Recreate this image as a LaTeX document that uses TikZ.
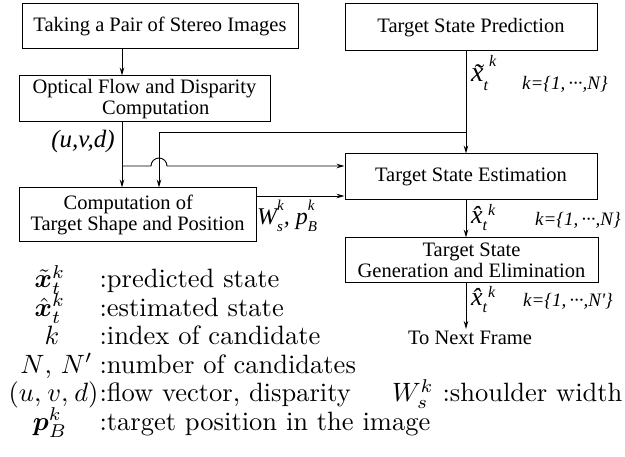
\documentclass[tikz,border=0pt]{standalone}
\usepackage{fontspec}
\usepackage{amsmath}
\usepackage{bm}
\usetikzlibrary{arrows.meta}
\newfontfamily\tms{Liberation Serif}
\newcommand{\sbsp}[2]{\rlap{\raisebox{-0.28em}{\fontsize{15}{15}\selectfont #1}}\raisebox{0.62em}{\fontsize{15}{15}\selectfont #2}}
% #1 accent, #2 size of x, #3 drop of t, #4 raise of k
\newcommand{\accx}[4]{{\fontsize{#2}{#2}\selectfont #1{x}}\raisebox{-#3}{\fontsize{16}{16}\selectfont t}\hspace{1pt}\raisebox{#4}{\fontsize{16}{16}\selectfont k}}
\newcommand{\mdots}{\textperiodcentered\textperiodcentered\textperiodcentered}
\begin{document}
\begin{tikzpicture}[x=1pt,y=-1pt,
  box/.style={draw, line width=1pt, inner sep=0pt, font=\tms\fontsize{20.5}{21}\selectfont, align=center},
  con/.style={line width=0.9pt, -{Stealth[length=8pt,width=4.5pt]}},
  lbl/.style={font=\tms\itshape\fontsize{24}{24}\selectfont, inner sep=0pt},
  klbl/.style={font=\tms\itshape\fontsize{19}{19}\selectfont, inner sep=0pt, anchor=base west},
  leg/.style={font=\normalsize, scale=2.65, transform shape, inner sep=0pt}
]
\useasboundingbox (0,0) rectangle (625,457);

% boxes
\node[box, minimum width=276pt, minimum height=45pt] (b1) at (160,26.5) {Taking a Pair of Stereo Images};
\node[box, minimum width=251pt, minimum height=46pt] (b2) at (144.5,99) {Optical Flow and Disparity\\\hspace*{1.1em}Computation};
\node[box, minimum width=237pt, minimum height=54pt] (b3) at (137.5,215) {Computation of\hspace*{0.9em}\\Target Shape and Position};
\node[box, minimum width=252pt, minimum height=47pt] (bp) at (471,27.5) {Target State Prediction};
\node[box, minimum width=252pt, minimum height=46pt] (be) at (471,177) {Target State Estimation};
\node[box, minimum width=253pt, minimum height=45pt] (bg) at (471.5,260.5) {Target State\\Generation and Elimination};
\node[font=\tms\fontsize{20.5}{21}\selectfont, inner xsep=0pt, inner ysep=2pt] (nf) at (470,338) {To Next Frame};

% helper coordinates
\coordinate (xa) at (122,0);
\coordinate (xb) at (159,0);
\coordinate (xc) at (466,0);
\coordinate (yj) at (0,132);
\coordinate (yh) at (0,166);
\coordinate (yw) at (0,196);

% connectors
\draw[con] (b1.south -| xa) -- (b2.north -| xa);
\draw[con] (b2.south -| xa) -- (b3.north -| xa);
\draw[con] (bp.south -| xc) -- (be.north -| xc);
\draw[con] (xc |- yj) -- (xb |- yj) -- (b3.north -| xb);
\draw[con] (xa |- yh) -- ([xshift=-8pt]xb |- yh) arc[start angle=180, end angle=0, radius=8pt] -- (be.west |- yh);
\draw[con] (b3.east |- yw) -- (be.west |- yw);
\draw[con] (be.south -| xc) -- (bg.north -| xc);
\draw[con] (bg.south -| xc) -- (nf.north -| xc);

% labels
\node[lbl, font=\tms\itshape\fontsize{25}{25}\selectfont] (uvd) at (83,141) {(u,v,d)};
\node[lbl, anchor=base west] (wp) at (257,225) {W\sbsp{s}{k}, p\sbsp{B}{k}};
\node[lbl, anchor=base west] (lx1) at (471,82) {\accx{\~}{28pt}{9pt}{15pt}};
\node[klbl] (k1) at (522,90) {k=\{1,\,\mdots,N\}};
\node[lbl, anchor=base west] (lx2) at (471,224) {\accx{\^}{26pt}{7pt}{8pt}};
\node[klbl] (k2) at (535,226) {k=\{1,\,\mdots,N\}};
\node[lbl, anchor=base west] (lx3) at (471,306) {\accx{\^}{26pt}{7pt}{8pt}};
\node[klbl] (k3) at (523,307) {k=\{1,\,\mdots,N'\}};

% legend
\node[leg, anchor=base] (s1) at (50,288) {$\tilde{\bm{x}}_t^k$};
\node[leg, anchor=base west] (t1) at (99,288) {:predicted state};
\node[leg, anchor=base] (s2) at (50,316.5) {$\hat{\bm{x}}_t^k$};
\node[leg, anchor=base west] (t2) at (99,316.5) {:estimated state};
\node[leg, anchor=base] (s3) at (52,345) {$k$};
\node[leg, anchor=base west] (t3) at (99,345) {:index of candidate};
\node[leg, anchor=base east] (s4) at (93,373.5) {$N$, $N'$};
\node[leg, anchor=base west] (t4) at (99,373.5) {:number of candidates};
\node[leg, anchor=base east] (s5) at (99,402) {$(u,\mkern1mu v,\mkern1mu d)$};
\node[leg, anchor=base west] (t5) at (99,402) {:flow vector, disparity};
\node[leg, anchor=base east] (t7) at (623,402) {$W_s^k$ :shoulder width};
\node[leg, anchor=base] (s6) at (50,430.5) {$\bm{p}_B^k$};
\node[leg, anchor=base west] (t6) at (99,430.5) {:target position in the image};
\end{tikzpicture}
\end{document}
